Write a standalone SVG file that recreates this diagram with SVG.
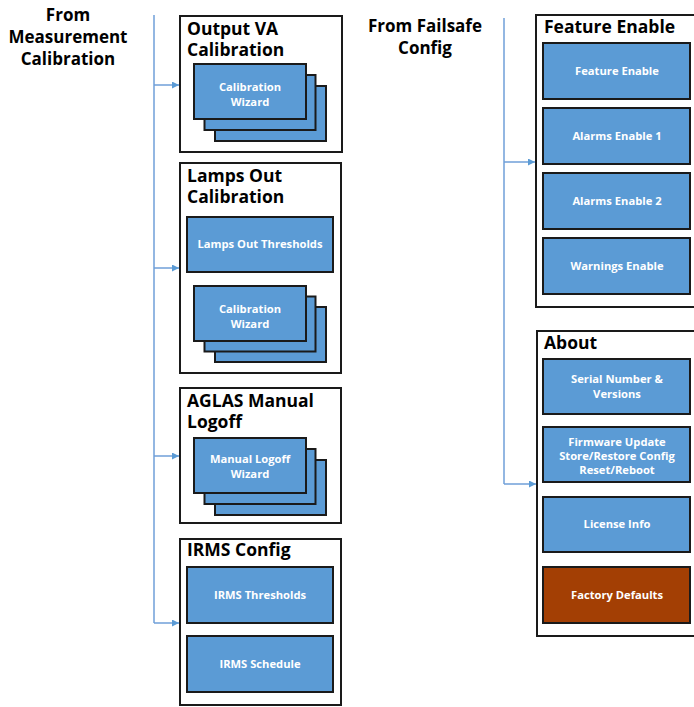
<svg xmlns="http://www.w3.org/2000/svg" width="694" height="707" viewBox="0 0 694 707">
<defs>
<marker id="arr" viewBox="0 0 10 10" refX="10" refY="5" markerWidth="8" markerHeight="7" markerUnits="userSpaceOnUse" orient="auto"><path d="M0,0 L10,5 L0,10 z" fill="#5b9bd5"/></marker>
<style>
.hdr{font-family:"Open Sans","Liberation Sans",sans-serif;font-weight:bold;font-size:17px;fill:#000;text-anchor:middle}
.ttl{font-family:"Open Sans","Liberation Sans",sans-serif;font-weight:bold;font-size:17.5px;fill:#000}
.grp{fill:#fff;stroke:#1a1a1a;stroke-width:2}
.box{fill:#5b9bd5;stroke:#1a1a1a;stroke-width:2}
.red{fill:#a33f04;stroke:#1a1a1a;stroke-width:2}
.lbl{font-family:"Open Sans","Liberation Sans",sans-serif;font-weight:bold;font-size:11.2px;fill:#fff;text-anchor:middle}
.con{fill:none;stroke:#6f9fd8;stroke-width:1.5}
</style>
</defs>
<rect width="694" height="707" fill="#fff"/>
<g id="hdr-measurement">
<text class="hdr" x="68" y="21">From</text>
<text class="hdr" x="68" y="43">Measurement</text>
<text class="hdr" x="68" y="65">Calibration</text>
</g>
<g id="hdr-failsafe">
<text class="hdr" x="425" y="32">From Failsafe</text>
<text class="hdr" x="425" y="54">Config</text>
</g>
<g id="connectors">
<path class="con" d="M154,15 V623"/>
<path class="con" d="M154,85 H179" marker-end="url(#arr)"/>
<path class="con" d="M154,268 H179" marker-end="url(#arr)"/>
<path class="con" d="M154,456 H179" marker-end="url(#arr)"/>
<path class="con" d="M154,623 H179" marker-end="url(#arr)"/>
<path class="con" d="M504,18 V484"/>
<path class="con" d="M504,162 H535" marker-end="url(#arr)"/>
<path class="con" d="M504,484 H536" marker-end="url(#arr)"/>
</g>
<g id="output-va">
<rect class="grp" x="180" y="16" width="162" height="136"/>
<text class="ttl" x="187" y="35">Output VA</text>
<text class="ttl" x="187" y="56">Calibration</text>
<rect class="box" x="215" y="86" width="111" height="55"/>
<rect class="box" x="204.5" y="75" width="111" height="55"/>
<rect class="box" x="194" y="64" width="112" height="55"/>
<text class="lbl" x="250" y="91">Calibration</text>
<text class="lbl" x="250" y="106">Wizard</text>
</g>
<g id="lamps-out">
<rect class="grp" x="180" y="163" width="161" height="210"/>
<text class="ttl" x="187" y="182">Lamps Out</text>
<text class="ttl" x="187" y="203">Calibration</text>
<rect class="box" x="187" y="217" width="146" height="55"/>
<text class="lbl" x="260" y="248">Lamps Out Thresholds</text>
<rect class="box" x="215" y="307" width="111" height="55"/>
<rect class="box" x="204.5" y="296.5" width="111" height="55"/>
<rect class="box" x="194" y="286" width="112" height="55"/>
<text class="lbl" x="250" y="313">Calibration</text>
<text class="lbl" x="250" y="328">Wizard</text>
</g>
<g id="aglas">
<rect class="grp" x="180" y="388" width="161" height="135"/>
<text class="ttl" x="187" y="407">AGLAS Manual</text>
<text class="ttl" x="187" y="428">Logoff</text>
<rect class="box" x="215" y="460" width="111" height="55"/>
<rect class="box" x="204.5" y="449" width="111" height="55"/>
<rect class="box" x="194" y="438" width="112" height="55"/>
<text class="lbl" x="250" y="463">Manual Logoff</text>
<text class="lbl" x="250" y="478">Wizard</text>
</g>
<g id="irms">
<rect class="grp" x="180" y="539" width="161" height="166"/>
<text class="ttl" x="187" y="556">IRMS Config</text>
<rect class="box" x="187" y="567" width="146" height="56"/>
<text class="lbl" x="260" y="599">IRMS  Thresholds</text>
<rect class="box" x="187" y="636" width="146" height="56"/>
<text class="lbl" x="260" y="668">IRMS Schedule</text>
</g>
<g id="feature-enable">
<rect class="grp" x="536" y="15" width="164" height="292"/>
<text class="ttl" x="544" y="33">Feature Enable</text>
<rect class="box" x="543" y="43" width="147" height="56"/>
<text class="lbl" x="617" y="75">Feature Enable</text>
<rect class="box" x="543" y="108" width="147" height="56"/>
<text class="lbl" x="617" y="140">Alarms Enable 1</text>
<rect class="box" x="543" y="173" width="147" height="56"/>
<text class="lbl" x="617" y="205">Alarms Enable 2</text>
<rect class="box" x="543" y="238" width="147" height="56"/>
<text class="lbl" x="617" y="270">Warnings Enable</text>
</g>
<g id="about">
<rect class="grp" x="537" y="331" width="163" height="305"/>
<text class="ttl" x="544" y="349">About</text>
<rect class="box" x="543" y="359" width="147" height="55"/>
<text class="lbl" x="617" y="383">Serial Number &amp;</text>
<text class="lbl" x="617" y="398">Versions</text>
<rect class="box" x="543" y="427" width="147" height="55"/>
<text class="lbl" x="617" y="446">Firmware Update</text>
<text class="lbl" x="617" y="460">Store/Restore Config</text>
<text class="lbl" x="617" y="474">Reset/Reboot</text>
<rect class="box" x="543" y="497" width="147" height="55"/>
<text class="lbl" x="617" y="528">License Info</text>
<rect class="red" x="543" y="567" width="147" height="56"/>
<text class="lbl" x="617" y="599">Factory Defaults</text>
</g>
</svg>
